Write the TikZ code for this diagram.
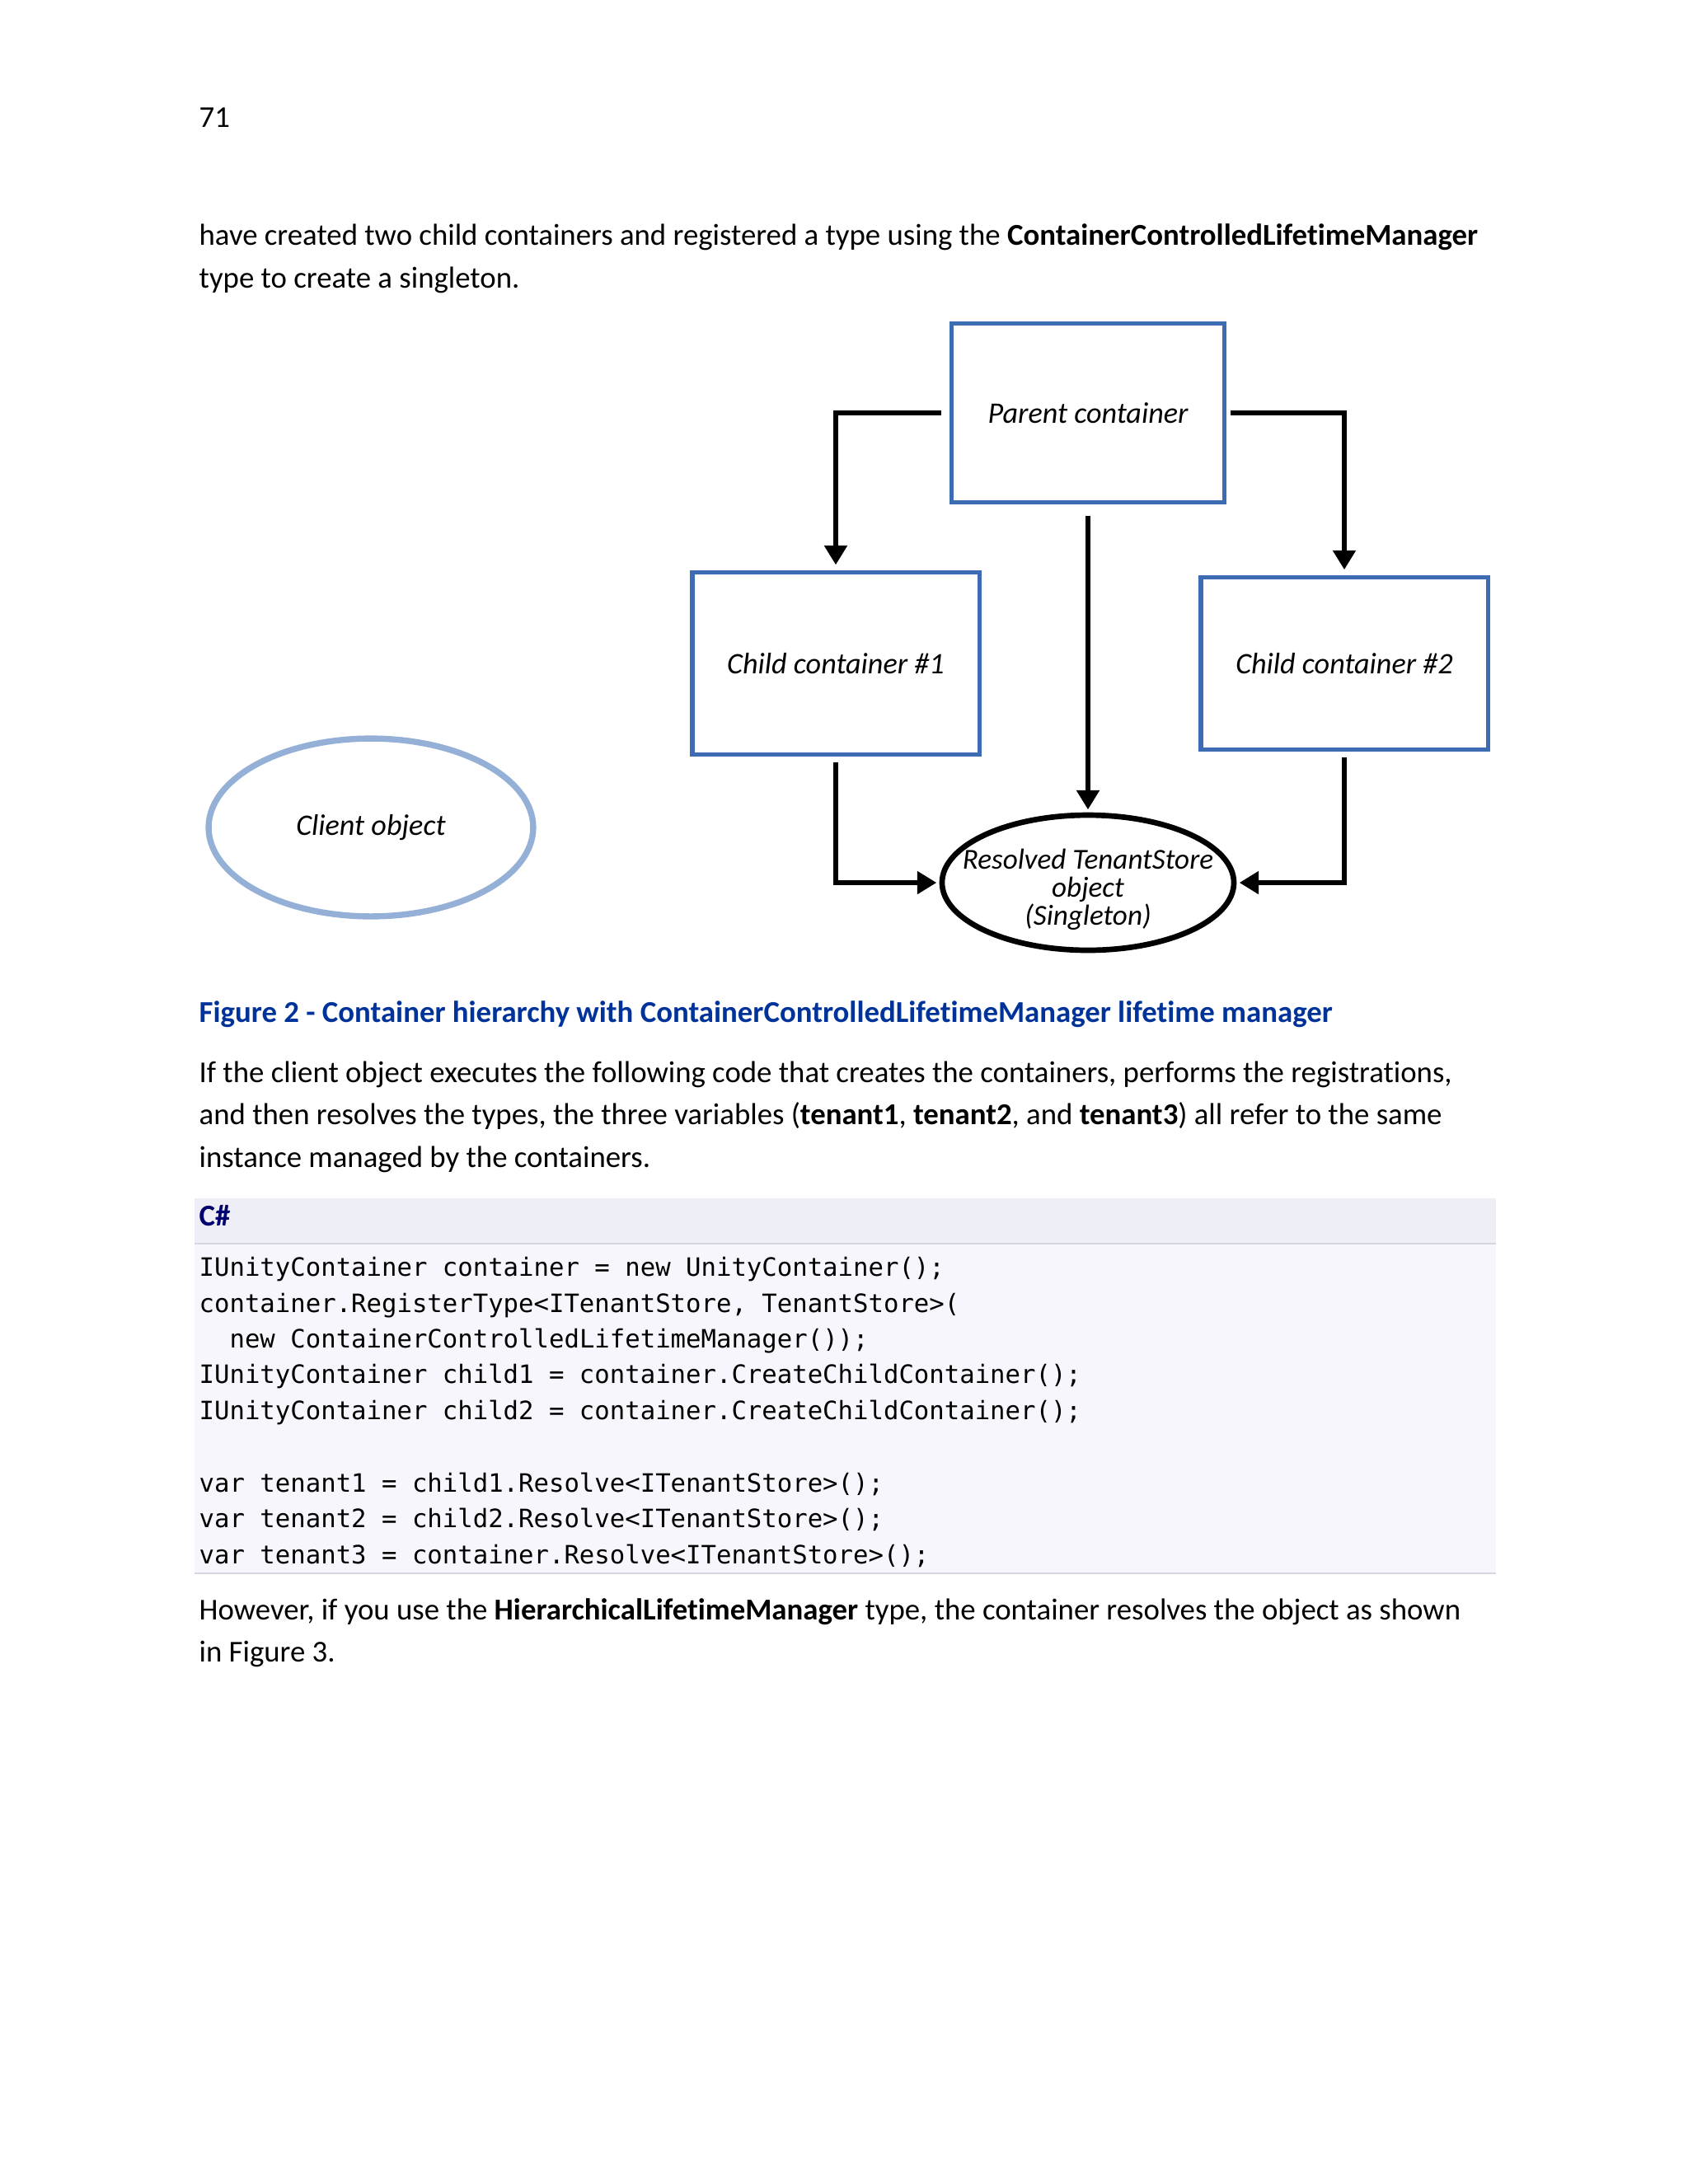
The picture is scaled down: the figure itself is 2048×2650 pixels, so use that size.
\documentclass[tikz,border=0pt]{standalone}
\usepackage{fontspec}
\setmainfont[Ligatures=NoCommon]{Carlito}
\newfontfamily\codefont{DejaVu Sans Mono}
\usetikzlibrary{shapes.geometric,arrows.meta}
\newcommand{\tI}{t\kern0pt i}
\definecolor{boxblue}{RGB}{62,108,180}
\definecolor{clientblue}{RGB}{149,176,214}
\definecolor{capblue}{RGB}{0,51,153}
\definecolor{navy}{RGB}{0,0,110}
\definecolor{codebg}{RGB}{246,246,252}
\definecolor{codehead}{RGB}{238,238,246}
\definecolor{codeline}{RGB}{214,214,224}
\tikzset{
  body/.style={anchor=base west,inner sep=0pt,font=\fontsize{11}{13}\selectfont},
  codetxt/.style={anchor=base west,inner sep=0pt,font=\codefont\fontsize{9.16}{10}\selectfont},
  cbox/.style={draw=boxblue,line width=1.5pt,fill=white,inner sep=0pt,font=\itshape\fontsize{10.8}{12}\selectfont},
  arr/.style={line width=2pt,-{Triangle[width=8pt,length=7pt]}},
}
\begin{document}
\begin{tikzpicture}[x=0.29883pt,y=-0.29883pt]
\useasboundingbox[fill=white] (0,0) rectangle (2048,2650);
% header text
\node[body] (pg) at (241,154) {71};
\node[body] (l1) at (241,297) {have created two child containers and registered a type using the \textbf{ContainerControlledLife\tI meManager}};
\node[body] (l2) at (241,349) {type to create a singleton.};
% diagram
\node[cbox,minimum width=98.9pt,minimum height=65.1pt] (parent) at (1320,501) {Parent container};
\node[cbox,minimum width=104pt,minimum height=66pt] (child1) at (1014,805) {Child container \#1};
\node[cbox,minimum width=104pt,minimum height=62.5pt] (child2) at (1631,805) {Child container \#2};
\node[ellipse,draw=black,line width=2pt,inner sep=0pt,minimum width=105.8pt,minimum height=49pt,
  label={[align=center,inner sep=0pt,yshift=-2.5pt,font=\itshape\fontsize{10.5}{10.2}\selectfont]center:Resolved TenantStore\\object\\(Singleton)}] (res) at (1320,1071) {};
\node[ellipse,draw=clientblue,line width=2.2pt,inner sep=0pt,minimum width=117.7pt,minimum height=64.5pt,font=\itshape\fontsize{10.8}{12}\selectfont] (client) at (450,1004) {Client object};
\draw[arr,shorten <=3pt,shorten >=2pt] (parent.west) -| (child1.north);
\draw[arr,shorten <=1.5pt,shorten >=2pt] (parent.east) -| (child2.north);
\draw[arr,shorten <=4pt,shorten >=1pt] (parent.south) -- (res.north);
\draw[arr,shorten <=2pt,shorten >=1pt] (child1.south) |- (res.west);
\draw[arr,shorten <=2pt,shorten >=1pt] (child2.south) |- (res.east);
% caption
\node[body,font=\bfseries\fontsize{11}{13}\selectfont,text=capblue] (cap) at (241,1240) {Figure 2 - Container hierarchy with ContainerControlledLife\tI meManager life\tI me manager};
\node[body] (p1) at (241,1313) {If the client object executes the following code that creates the containers, performs the registra\tI ons,};
\node[body] (p2) at (241,1364) {and then resolves the types, the three variables (\textbf{tenant1}, \textbf{tenant2}, and \textbf{tenant3}) all refer to the same};
\node[body] (p3) at (241,1416) {instance managed by the containers.};
% code block
\fill[codebg] (236,1454) rectangle (1815,1909);
\fill[codehead] (236,1454) rectangle (1815,1509);
\draw[codeline,line width=0.8pt] (236,1509) -- (1815,1509);
\draw[codeline,line width=0.8pt] (236,1909) -- (1815,1909);
\node[body,font=\bfseries\fontsize{11}{13}\selectfont,text=navy] (cs) at (241,1487) {C\#};
\node[codetxt] (c1) at (241,1548) {IUnityContainer container = new UnityContainer();};
\node[codetxt] (c2) at (241,1592) {container.RegisterType<ITenantStore, TenantStore>(};
\node[codetxt] (c3) at (241,1635) {\ \ new ContainerControlledLifetimeManager());};
\node[codetxt] (c4) at (241,1678) {IUnityContainer child1 = container.CreateChildContainer();};
\node[codetxt] (c5) at (241,1722) {IUnityContainer child2 = container.CreateChildContainer();};
\node[codetxt] (c7) at (241,1810) {var tenant1 = child1.Resolve<ITenantStore>();};
\node[codetxt] (c8) at (241,1853) {var tenant2 = child2.Resolve<ITenantStore>();};
\node[codetxt] (c9) at (241,1897) {var tenant3 = container.Resolve<ITenantStore>();};
% final paragraph
\node[body] (q1) at (241,1965) {However, if you use the \textbf{HierarchicalLife\tI meManager} type, the container resolves the object as shown};
\node[body] (q2) at (241,2016) {in Figure 3.};
\end{tikzpicture}
\end{document}
